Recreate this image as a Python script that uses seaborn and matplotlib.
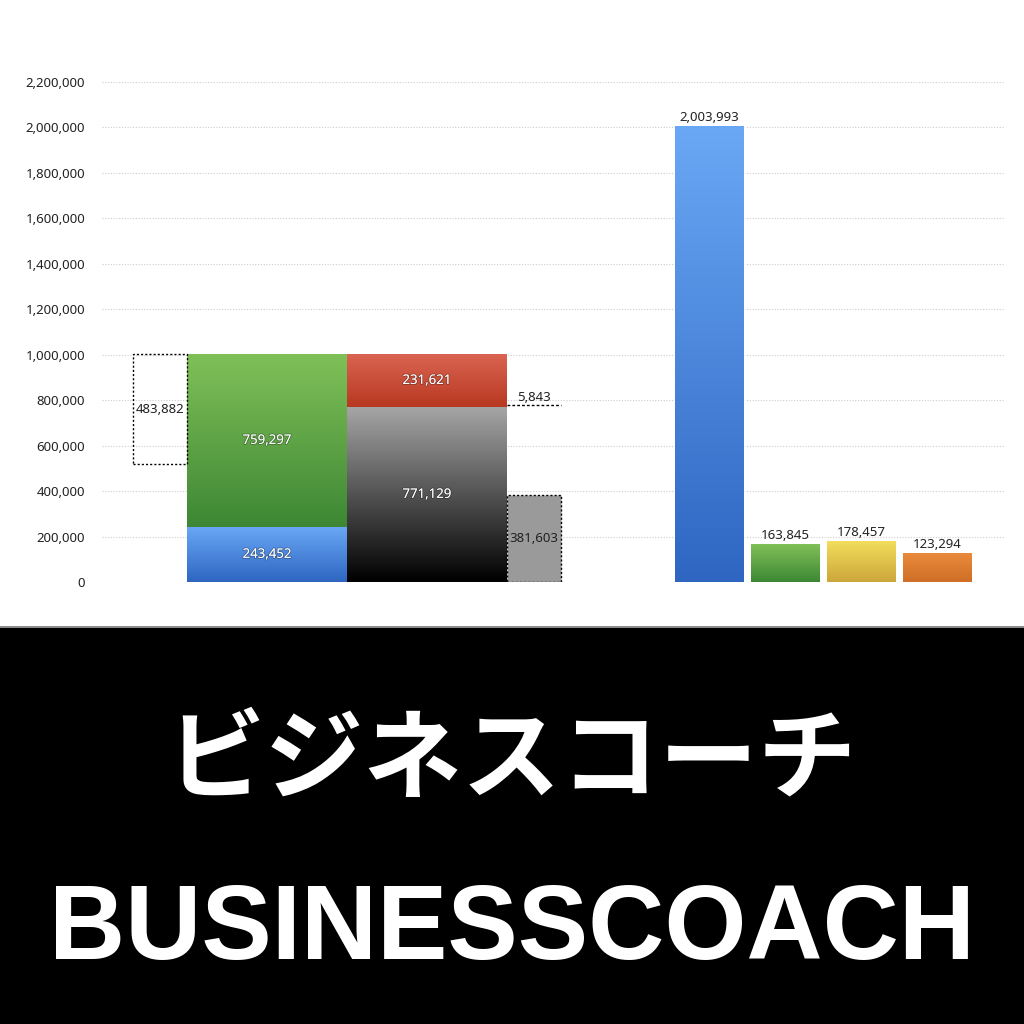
import numpy as np
import pandas as pd
import seaborn as sns
import matplotlib.pyplot as plt
import matplotlib.patheffects as pe
from matplotlib.colors import LinearSegmentedColormap
from matplotlib.patches import Rectangle

# data
assets_current = 243452
assets_fixed = 759297
liab = 231621
equity = 771129
left_gap = 483882
right_box = 381603
right_line = 5843

right_labels = ["A", "B", "C", "D"]
right_values = [2003993, 163845, 178457, 123294]

yticks = np.arange(0, 2200001, 200000)

# layout (x in pixel-like units)
x_left_box = (133, 187)
x_col1 = (187, 347)
x_col2 = (347, 507)
x_right_box = (507, 561)
right_pos = [709.5, 785.5, 861.5, 937.5]

grad = {
    "blue": ("#6aa8f5", "#2e66c2"),
    "green": ("#80c058", "#3d8734"),
    "red": ("#da6452", "#b83820"),
    "black": ("#a6a6a6", "#000000"),
    "yellow": ("#f2de5c", "#cca63a"),
    "orange": ("#e98a3b", "#cf6f28"),
}

sns.set_theme(style="white")
plt.rcParams['font.family'] = ['Noto Sans', 'DejaVu Sans']

fig = plt.figure(figsize=(10.24, 10.24), dpi=100)
ax = fig.add_axes([102 / 1024, (1024 - 582) / 1024, (1005 - 102) / 1024, 500 / 1024])


def gradient_fill(x0, x1, y0, y1, key, z=2):
    top, bot = grad[key]
    cmap = LinearSegmentedColormap.from_list(key, [bot, top])
    img = np.linspace(0, 1, 256).reshape(-1, 1)
    ax.imshow(img, cmap=cmap, origin="lower", aspect="auto",
              extent=(x0, x1, y0, y1), zorder=z, interpolation="bicubic")


# right bars via seaborn
df = pd.DataFrame({"pos": right_pos, "value": right_values, "name": right_labels})
sns.barplot(data=df, x="pos", y="value", native_scale=True, width=69 / 76,
            color="#4a86dc", ax=ax, zorder=1)
right_keys = ["blue", "green", "yellow", "orange"]
for p, key, v in zip(list(ax.patches), right_keys, right_values):
    x0 = p.get_x()
    x1 = x0 + p.get_width()
    gradient_fill(x0, x1, 0, v, key)
    ax.text((x0 + x1) / 2, v + 12000, f"{v:,}", ha="center", va="bottom",
            fontsize=9.5, color="#222222", zorder=5)

# left composite columns
gradient_fill(x_col1[0], x_col1[1], 0, assets_current, "blue")
gradient_fill(x_col1[0], x_col1[1], assets_current, assets_current + assets_fixed, "green")
gradient_fill(x_col2[0], x_col2[1], 0, equity, "black")
gradient_fill(x_col2[0], x_col2[1], equity, equity + liab, "red")

shadow_fx = [pe.Stroke(linewidth=1.2, foreground=(0, 0, 0, 0.3)), pe.Normal()]


def white_label(x, y, v):
    ax.text(x, y, f"{v:,}", ha="center", va="center", fontsize=9.5,
            color="white", zorder=6, path_effects=shadow_fx)


c1 = sum(x_col1) / 2
c2 = sum(x_col2) / 2
white_label(c1, assets_current / 2, assets_current)
white_label(c1, assets_current + assets_fixed / 2, assets_fixed)
white_label(c2, equity / 2, equity)
white_label(c2, equity + liab / 2, liab)

# dotted boxes
top_total = assets_current + assets_fixed
ax.bar(x_left_box[0], left_gap, bottom=top_total - left_gap,
       width=x_left_box[1] - x_left_box[0], align="edge", fill=False,
       edgecolor="black", linestyle=(0, (1.5, 1.5)), linewidth=1, zorder=4)
ax.text(sum(x_left_box) / 2, top_total - left_gap / 2, f"{left_gap:,}",
        ha="center", va="center", fontsize=9.5, color="#222222", zorder=6)

ax.bar(x_right_box[0], right_box, width=x_right_box[1] - x_right_box[0],
       align="edge", facecolor="#9a9a9a", edgecolor="black",
       linestyle=(0, (1.5, 1.5)), linewidth=1, zorder=4)
ax.text(sum(x_right_box) / 2, right_box / 2, f"{right_box:,}",
        ha="center", va="center", fontsize=9.5, color="#222222", zorder=6)

line_y = equity + right_line
ax.plot(x_right_box, [line_y, line_y], color="black",
        linestyle=(0, (2, 1.5)), linewidth=1, zorder=4)
ax.text(sum(x_right_box) / 2, line_y + 8000, f"{right_line:,}",
        ha="center", va="bottom", fontsize=9.5, color="#222222", zorder=6)

# axes styling
ax.set_xlim(102, 1005)
ax.set_ylim(0, 2200000)
ax.set_yticks(yticks)
ax.set_yticklabels([f"{t:,}" for t in yticks], fontsize=9.5, color="#222222")
ax.set_xticks([])
ax.set_xlabel("")
ax.set_ylabel("")
ax.tick_params(axis="y", length=0, pad=12)
ax.yaxis.grid(True, color="#cccccc", linestyle=(0, (1, 1.5)), linewidth=0.8)
ax.set_axisbelow(True)
for s in ax.spines.values():
    s.set_visible(False)

# black banner
fig.patches.append(Rectangle((0, 0), 1, (1024 - 627) / 1024, transform=fig.transFigure,
                             facecolor="black", edgecolor="none", zorder=0))
fig.patches.append(Rectangle((0, (1024 - 628) / 1024), 1, 2 / 1024, transform=fig.transFigure,
                             facecolor="#8a8a8a", edgecolor="none", zorder=0))

fig.text(0.5, (1024 - 762) / 1024, "ビジネスコーチ", ha="center", va="center",
         fontsize=71, fontweight="bold", color="white",
         family=["Noto Sans CJK JP", "DejaVu Sans"])
fig.text(0.5, (1024 - 931) / 1024, "BUSINESSCOACH", ha="center", va="center",
         fontsize=76, fontweight="bold", color="white",
         family=["Liberation Sans", "DejaVu Sans"])

fig.savefig("out.png", dpi=100, facecolor="white")
